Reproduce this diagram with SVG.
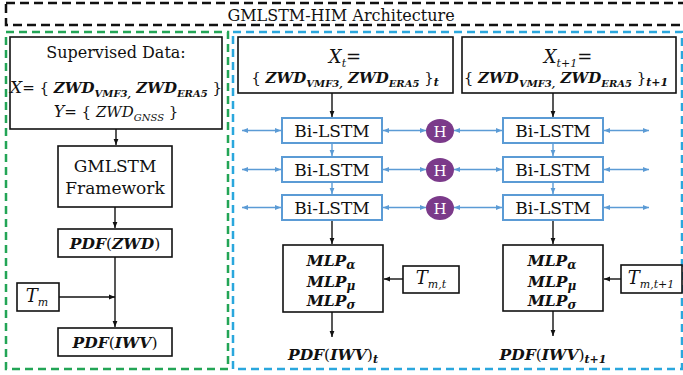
<svg xmlns="http://www.w3.org/2000/svg" width="683" height="375" viewBox="0 0 683 375">
<style>
.bg{fill:#ffffff}
.box{fill:#ffffff;stroke:#111;stroke-width:1.6}
.lbox{fill:#ffffff;stroke:#5b9bd5;stroke-width:2}
.ln{fill:none;stroke:#111;stroke-width:1.4}
.bl{fill:none;stroke:#5b9bd5;stroke-width:1.4}
.serif{font-family:"DejaVu Serif","Liberation Serif",serif;fill:#111}
.m{font-family:"DejaVu Serif","Liberation Serif",serif;font-weight:bold;font-style:italic;fill:#111}
.it{font-style:italic;font-weight:normal}
.rg{font-style:normal;font-weight:normal}
.h{font-family:"DejaVu Serif","Liberation Serif",serif;fill:#fff;font-size:15px}
</style>
<defs>
<marker id="ab" viewBox="0 0 10 10" refX="10" refY="5" markerWidth="6" markerHeight="6" orient="auto-start-reverse" markerUnits="userSpaceOnUse"><path d="M0,1 L10,5 L0,9 Z" fill="#111"/></marker>
<marker id="au" viewBox="0 0 10 10" refX="10" refY="5" markerWidth="7" markerHeight="6" orient="auto-start-reverse" markerUnits="userSpaceOnUse"><path d="M0,1 L10,5 L0,9 Z" fill="#5b9bd5"/></marker>
</defs>
<rect class="bg" x="0" y="0" width="683" height="375"/>

<g id="frames">
<rect x="6" y="3" width="690" height="22" fill="none" stroke="#111" stroke-width="2.5" stroke-dasharray="9,5"/>
<text class="serif" x="341" y="21" font-size="16" text-anchor="middle">GMLSTM-HIM Architecture</text>
<rect x="6" y="32" width="222" height="337" fill="none" stroke="#23a556" stroke-width="2.5" stroke-dasharray="8,5"/>
<rect x="233" y="32" width="449" height="337" fill="none" stroke="#2aa7dd" stroke-width="2.5" stroke-dasharray="8,5"/>
</g>

<g id="connectors">
<line class="ln" x1="116" y1="129" x2="116" y2="145" marker-end="url(#ab)"/>
<line class="ln" x1="115" y1="207" x2="115" y2="228" marker-end="url(#ab)"/>
<line class="ln" x1="115" y1="257" x2="115" y2="327" marker-end="url(#ab)"/>
<line class="ln" x1="59" y1="297" x2="115" y2="297" marker-end="url(#ab)"/>

<line class="ln" x1="332" y1="93" x2="332" y2="117" marker-end="url(#ab)"/>
<line class="ln" x1="553" y1="93" x2="553" y2="117" marker-end="url(#ab)"/>
<line class="bl" x1="332" y1="143" x2="332" y2="156" marker-end="url(#au)"/>
<line class="bl" x1="332" y1="182" x2="332" y2="194" marker-end="url(#au)"/>
<line class="bl" x1="553" y1="143" x2="553" y2="156" marker-end="url(#au)"/>
<line class="bl" x1="553" y1="182" x2="553" y2="194" marker-end="url(#au)"/>
<line class="ln" x1="332" y1="220" x2="332" y2="244" marker-end="url(#ab)"/>
<line class="ln" x1="553" y1="220" x2="553" y2="244" marker-end="url(#ab)"/>

<line class="bl" x1="242" y1="130.5" x2="281" y2="130.5" marker-start="url(#au)" marker-end="url(#au)"/>
<line class="bl" x1="383" y1="130.5" x2="426" y2="130.5" marker-start="url(#au)" marker-end="url(#au)"/>
<line class="bl" x1="454" y1="130.5" x2="502" y2="130.5" marker-start="url(#au)" marker-end="url(#au)"/>
<line class="bl" x1="604" y1="130.5" x2="649" y2="130.5" marker-start="url(#au)" marker-end="url(#au)"/>

<line class="bl" x1="242" y1="169.5" x2="281" y2="169.5" marker-start="url(#au)" marker-end="url(#au)"/>
<line class="bl" x1="383" y1="169.5" x2="426" y2="169.5" marker-start="url(#au)" marker-end="url(#au)"/>
<line class="bl" x1="454" y1="169.5" x2="502" y2="169.5" marker-start="url(#au)" marker-end="url(#au)"/>
<line class="bl" x1="604" y1="169.5" x2="649" y2="169.5" marker-start="url(#au)" marker-end="url(#au)"/>

<line class="bl" x1="242" y1="207.5" x2="281" y2="207.5" marker-start="url(#au)" marker-end="url(#au)"/>
<line class="bl" x1="383" y1="207.5" x2="426" y2="207.5" marker-start="url(#au)" marker-end="url(#au)"/>
<line class="bl" x1="454" y1="207.5" x2="502" y2="207.5" marker-start="url(#au)" marker-end="url(#au)"/>
<line class="bl" x1="604" y1="207.5" x2="649" y2="207.5" marker-start="url(#au)" marker-end="url(#au)"/>

<line class="ln" x1="403" y1="279" x2="384" y2="279" marker-end="url(#ab)"/>
<line class="ln" x1="621" y1="279" x2="604" y2="279" marker-end="url(#ab)"/>
<line class="ln" x1="332" y1="312" x2="332" y2="337" marker-end="url(#ab)"/>
<line class="ln" x1="553" y1="311" x2="553" y2="336" marker-end="url(#ab)"/>
</g>

<g id="supervised">
<rect class="box" x="10" y="37" width="212" height="92"/>
<text class="serif" x="116" y="58" font-size="16" text-anchor="middle">Supervised Data:</text>
<text class="m" x="116" y="93" font-size="15" text-anchor="middle"><tspan class="it" font-size="17">X</tspan><tspan class="rg">= { </tspan>ZWD<tspan font-size="10" dy="4">VMF3,</tspan><tspan dy="-4"> ZWD</tspan><tspan font-size="10" dy="4">ERA5</tspan><tspan class="rg" dy="-4"> }</tspan></text>
<text class="m" x="116" y="117" font-size="15" text-anchor="middle"><tspan class="it" font-size="16">Y</tspan><tspan class="rg">= { </tspan><tspan class="it">ZWD</tspan><tspan class="it" font-size="10" dy="4">GNSS</tspan><tspan class="rg" dy="-4"> }</tspan></text>
</g>

<g id="gmlstm">
<rect class="box" x="58" y="146" width="114" height="61"/>
<text class="serif" x="115" y="172" font-size="17" text-anchor="middle">GMLSTM</text>
<text class="serif" x="115" y="194" font-size="17" text-anchor="middle">Framework</text>
</g>

<g id="pdfzwd">
<rect class="box" x="58" y="229" width="114" height="28"/>
<text class="m" x="115" y="249" font-size="15.5" text-anchor="middle">PDF<tspan class="rg">(</tspan>ZWD<tspan class="rg">)</tspan></text>
</g>

<g id="tm">
<rect class="box" x="17" y="283" width="42" height="28"/>
<text class="serif" x="37" y="302" font-size="18" text-anchor="middle" font-style="italic">T<tspan font-size="11" dy="4">m</tspan></text>
</g>

<g id="pdfiwv">
<rect class="box" x="58" y="328" width="114" height="28"/>
<text class="m" x="115" y="348" font-size="15.5" text-anchor="middle">PDF<tspan class="rg">(</tspan>IWV<tspan class="rg">)</tspan></text>
</g>

<g id="xt">
<rect class="box" x="238" y="37" width="215" height="56"/>
<text class="serif" x="345" y="63" font-size="18" text-anchor="middle"><tspan font-style="italic">X</tspan><tspan font-style="italic" font-size="11" dy="4">t</tspan><tspan dy="-4">=</tspan></text>
<text class="m" x="345" y="83" font-size="15" text-anchor="middle"><tspan class="rg">{ </tspan>ZWD<tspan font-size="10" dy="4">VMF3,</tspan><tspan dy="-4"> ZWD</tspan><tspan font-size="10" dy="4">ERA5</tspan><tspan class="rg" dy="-4"> }</tspan><tspan font-size="11" dy="3">t</tspan></text>
</g>

<g id="xt1">
<rect class="box" x="462" y="37" width="214" height="56"/>
<text class="serif" x="568" y="63" font-size="18" text-anchor="middle"><tspan font-style="italic">X</tspan><tspan font-style="italic" font-size="11" dy="4">t+1</tspan><tspan dy="-4">=</tspan></text>
<text class="m" x="566" y="83" font-size="15" text-anchor="middle"><tspan class="rg">{ </tspan>ZWD<tspan font-size="10" dy="4">VMF3,</tspan><tspan dy="-4"> ZWD</tspan><tspan font-size="10" dy="4">ERA5</tspan><tspan class="rg" dy="-4"> }</tspan><tspan font-size="11" dy="3">t+1</tspan></text>
</g>

<g id="bilstm1a"><rect class="lbox" x="282" y="118" width="100" height="25"/><text class="serif" x="332" y="137" font-size="17" text-anchor="middle">Bi-LSTM</text></g>
<g id="bilstm2a"><rect class="lbox" x="282" y="157" width="100" height="25"/><text class="serif" x="332" y="176" font-size="17" text-anchor="middle">Bi-LSTM</text></g>
<g id="bilstm3a"><rect class="lbox" x="282" y="195" width="100" height="25"/><text class="serif" x="332" y="214" font-size="17" text-anchor="middle">Bi-LSTM</text></g>
<g id="bilstm1b"><rect class="lbox" x="503" y="118" width="100" height="25"/><text class="serif" x="553" y="137" font-size="17" text-anchor="middle">Bi-LSTM</text></g>
<g id="bilstm2b"><rect class="lbox" x="503" y="157" width="100" height="25"/><text class="serif" x="553" y="176" font-size="17" text-anchor="middle">Bi-LSTM</text></g>
<g id="bilstm3b"><rect class="lbox" x="503" y="195" width="100" height="25"/><text class="serif" x="553" y="214" font-size="17" text-anchor="middle">Bi-LSTM</text></g>

<g id="h1"><ellipse cx="440" cy="131" rx="14" ry="12" fill="#7b3a8a"/><text class="h" x="440" y="136.5" text-anchor="middle">H</text></g>
<g id="h2"><ellipse cx="440" cy="170" rx="14" ry="12" fill="#7b3a8a"/><text class="h" x="440" y="175.5" text-anchor="middle">H</text></g>
<g id="h3"><ellipse cx="440" cy="208" rx="14" ry="12" fill="#7b3a8a"/><text class="h" x="440" y="213.5" text-anchor="middle">H</text></g>

<g id="mlpa">
<rect class="box" x="283" y="245" width="100" height="67"/>
<text class="m" x="331" y="266" font-size="15.5" text-anchor="middle">MLP<tspan font-size="12" dy="3">α</tspan></text>
<text class="m" x="331" y="287" font-size="15.5" text-anchor="middle">MLP<tspan font-size="12" dy="3">μ</tspan></text>
<text class="m" x="331" y="306" font-size="15.5" text-anchor="middle">MLP<tspan font-size="12" dy="3">σ</tspan></text>
</g>
<g id="mlpb">
<rect class="box" x="503" y="245" width="100" height="66"/>
<text class="m" x="552" y="266" font-size="15.5" text-anchor="middle">MLP<tspan font-size="12" dy="3">α</tspan></text>
<text class="m" x="552" y="287" font-size="15.5" text-anchor="middle">MLP<tspan font-size="12" dy="3">μ</tspan></text>
<text class="m" x="552" y="306" font-size="15.5" text-anchor="middle">MLP<tspan font-size="12" dy="3">σ</tspan></text>
</g>

<g id="tmt">
<rect class="box" x="403" y="266" width="56" height="27"/>
<text class="serif" x="431" y="284" font-size="18" text-anchor="middle" font-style="italic">T<tspan font-size="11" dy="4">m,t</tspan></text>
</g>
<g id="tmt1">
<rect class="box" x="621" y="265" width="61" height="28"/>
<text class="serif" x="651" y="284" font-size="18" text-anchor="middle" font-style="italic">T<tspan font-size="11" dy="4">m,t+1</tspan></text>
</g>

<g id="outa"><text class="m" x="333" y="360" font-size="15.5" text-anchor="middle">PDF<tspan class="rg">(</tspan>IWV<tspan class="rg">)</tspan><tspan font-size="11" dy="3">t</tspan></text></g>
<g id="outb"><text class="m" x="553" y="360" font-size="15.5" text-anchor="middle">PDF<tspan class="rg">(</tspan>IWV<tspan class="rg">)</tspan><tspan font-size="11" dy="3">t+1</tspan></text></g>
</svg>
